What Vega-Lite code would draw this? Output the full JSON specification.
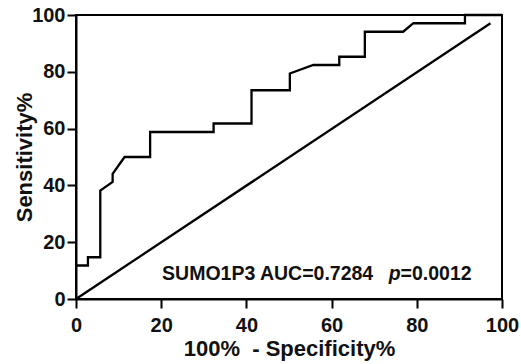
{
  "$schema": "https://vega.github.io/schema/vega-lite/v6.json",
  "width": 426,
  "height": 284,
  "autosize": {"type": "none"},
  "padding": {"left": 76, "top": 15, "right": 19, "bottom": 65},
  "background": "white",
  "view": {"stroke": "black", "strokeWidth": 2},
  "config": {
    "axis": {
      "grid": false,
      "domainColor": "black",
      "domainWidth": 2,
      "tickColor": "black",
      "tickWidth": 2,
      "tickSize": 9,
      "labelFont": "Liberation Sans",
      "labelFontWeight": "bold",
      "labelFontSize": 20,
      "labelColor": "#111",
      "titleFont": "Liberation Sans",
      "titleFontWeight": "bold",
      "titleFontSize": 22,
      "titleColor": "#111"
    }
  },
  "datasets": {
    "roc": [
      {"i": 1, "fpr": 0, "tpr": 11.8},
      {"i": 2, "fpr": 2.8, "tpr": 11.8},
      {"i": 3, "fpr": 2.8, "tpr": 14.7},
      {"i": 4, "fpr": 5.7, "tpr": 14.7},
      {"i": 5, "fpr": 5.7, "tpr": 38.2},
      {"i": 6, "fpr": 8.6, "tpr": 41.2},
      {"i": 7, "fpr": 8.6, "tpr": 44.1},
      {"i": 8, "fpr": 11.4, "tpr": 50},
      {"i": 9, "fpr": 17.4, "tpr": 50},
      {"i": 10, "fpr": 17.4, "tpr": 58.8},
      {"i": 11, "fpr": 32.3, "tpr": 58.8},
      {"i": 12, "fpr": 32.3, "tpr": 61.8},
      {"i": 13, "fpr": 41.2, "tpr": 61.8},
      {"i": 14, "fpr": 41.2, "tpr": 73.5},
      {"i": 15, "fpr": 50.2, "tpr": 73.5},
      {"i": 16, "fpr": 50.2, "tpr": 79.4},
      {"i": 17, "fpr": 55.7, "tpr": 82.4},
      {"i": 18, "fpr": 61.8, "tpr": 82.4},
      {"i": 19, "fpr": 61.8, "tpr": 85.3},
      {"i": 20, "fpr": 67.8, "tpr": 85.3},
      {"i": 21, "fpr": 67.8, "tpr": 94.1},
      {"i": 22, "fpr": 76.8, "tpr": 94.1},
      {"i": 23, "fpr": 79.2, "tpr": 97.1},
      {"i": 24, "fpr": 91.3, "tpr": 97.1},
      {"i": 25, "fpr": 91.3, "tpr": 100},
      {"i": 26, "fpr": 100, "tpr": 100}
    ],
    "ref": [
      {"fpr": 0, "tpr": 0},
      {"fpr": 97.3, "tpr": 97.1}
    ],
    "labels": [
      {"fpr": 20.2, "tpr": 6.7, "text": "SUMO1P3 AUC=0.7284", "style": "normal"},
      {"fpr": 73.4, "tpr": 6.7, "text": "p", "style": "italic"},
      {"fpr": 76.2, "tpr": 6.7, "text": "=0.0012", "style": "normal"}
    ]
  },
  "layer": [
    {
      "data": {"name": "roc"},
      "mark": {"type": "line", "color": "black", "strokeWidth": 2.3, "clip": false},
      "encoding": {
        "x": {"field": "fpr", "type": "quantitative", "scale": {"domain": [0, 100], "nice": false}, "axis": {"title": "100%\u00a0\u00a0- Specificity%", "values": [0, 20, 40, 60, 80, 100], "labelPadding": 7, "titlePadding": 3, "labelFlush": false}},
        "y": {"field": "tpr", "type": "quantitative", "scale": {"domain": [0, 100], "nice": false}, "axis": {"title": "Sensitivity%", "values": [0, 20, 40, 60, 80, 100], "labelPadding": 2, "titlePadding": -5, "labelFlush": false}},
        "order": {"field": "i", "type": "quantitative"}
      }
    },
    {
      "data": {"name": "ref"},
      "mark": {"type": "line", "color": "black", "strokeWidth": 2.3},
      "encoding": {
        "x": {"field": "fpr", "type": "quantitative"},
        "y": {"field": "tpr", "type": "quantitative"}
      }
    },
    {
      "data": {"name": "labels"},
      "transform": [{"filter": "datum.style === 'normal'"}],
      "mark": {"type": "text", "align": "left", "baseline": "alphabetic", "font": "Liberation Sans", "fontWeight": "bold", "fontSize": 19.5, "color": "#111"},
      "encoding": {
        "x": {"field": "fpr", "type": "quantitative"},
        "y": {"field": "tpr", "type": "quantitative"},
        "text": {"field": "text"}
      }
    },
    {
      "data": {"name": "labels"},
      "transform": [{"filter": "datum.style === 'italic'"}],
      "mark": {"type": "text", "align": "left", "baseline": "alphabetic", "font": "Liberation Sans", "fontWeight": "bold", "fontStyle": "italic", "fontSize": 19.5, "color": "#111"},
      "encoding": {
        "x": {"field": "fpr", "type": "quantitative"},
        "y": {"field": "tpr", "type": "quantitative"},
        "text": {"field": "text"}
      }
    }
  ]
}
